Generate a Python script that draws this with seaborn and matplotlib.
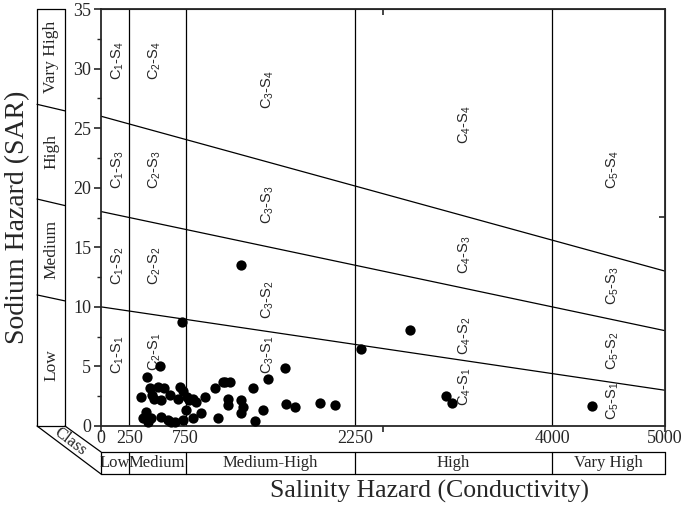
import numpy as np
import pandas as pd
import matplotlib
matplotlib.use('Agg')
import matplotlib.pyplot as plt
import seaborn as sns

# sample points: conductivity (x) and SAR (y)
ec = [714, 1239, 2307, 2741, 3062, 3112, 4357, 519, 410, 357,
      431, 504, 555, 608, 696, 726, 474, 534, 448, 758,
      784, 846, 920, 1009, 1082, 1141, 1127, 1127, 1245, 1260,
      1245, 1348, 1481, 1628, 1436, 1363, 1643, 1717, 1938, 2071,
      401, 445, 372, 534, 623, 726, 755, 817, 890, 1038,
      419, 684, 817, 660, 1097, 590]
sar = [8.7, 13.5, 6.45, 8.03, 2.5, 1.96, 1.68, 5.0, 4.14, 2.46,
       3.16, 3.3, 3.15, 2.6, 3.3, 2.9, 2.3, 2.18, 2.6, 2.46,
       2.18, 2.04, 2.46, 3.16, 3.7, 3.7, 2.3, 1.76, 2.18, 1.62,
       1.07, 3.17, 3.95, 4.9, 1.34, 0.42, 1.82, 1.62, 1.9, 1.76,
       1.2, 0.64, 0.64, 0.78, 0.36, 0.5, 1.34, 0.64, 1.07, 0.64,
       0.36, 2.3, 2.3, 0.3, 3.7, 0.5]

# class boundaries
ec_bounds = [250, 750, 2250, 4000]
sar_left = [10, 18, 26]
sar_right = [3, 8, 13]
ec_classes = ['Low', 'Medium', 'Medium-High', 'High', 'Vary High']
sar_classes = ['Low', 'Medium', 'High', 'Vary High']
x_ticklabels = [0, 250, 750, 2250, 4000, 5000]

# zone labels (C-S), positions in data units
zone_names = ['C$_1$-S$_4$', 'C$_2$-S$_4$', 'C$_3$-S$_4$', 'C$_4$-S$_4$', 'C$_5$-S$_4$',
              'C$_1$-S$_3$', 'C$_2$-S$_3$', 'C$_3$-S$_3$', 'C$_4$-S$_3$', 'C$_5$-S$_3$',
              'C$_1$-S$_2$', 'C$_2$-S$_2$', 'C$_3$-S$_2$', 'C$_4$-S$_2$', 'C$_5$-S$_2$',
              'C$_1$-S$_1$', 'C$_2$-S$_1$', 'C$_3$-S$_1$', 'C$_4$-S$_1$', 'C$_5$-S$_1$']
zone_x = [150, 480, 1478, 3221, 4540] * 4
zone_y = [30.7, 30.7, 28.2, 25.3, 21.5,
          21.5, 21.5, 18.6, 14.4, 11.8,
          13.5, 13.5, 10.6, 7.6, 6.3,
          6.0, 6.2, 6.0, 3.3, 2.1]

sns.set_style('ticks')
plt.rcParams['font.family'] = ['Liberation Serif', 'DejaVu Serif']
plt.rcParams['mathtext.fontset'] = 'custom'
plt.rcParams['mathtext.rm'] = 'Liberation Sans'
plt.rcParams['mathtext.it'] = 'Liberation Sans'

fig = plt.figure(figsize=(6.85, 5.07), dpi=100)
ax = fig.add_axes([101/685, 1 - 426/507, 564/685, 417/507])

df = pd.DataFrame({'ec': ec, 'sar': sar})
sns.scatterplot(data=df, x='ec', y='sar', color='black', s=55, edgecolor='black',
                linewidth=0, ax=ax, clip_on=False, zorder=5)

lw = 0.9
for b in ec_bounds:
    ax.axvline(b, color='black', lw=lw)
for l, r in zip(sar_left, sar_right):
    ax.plot([0, 5000], [l, r], color='black', lw=lw)

for name, x, y in zip(zone_names, zone_x, zone_y):
    ax.text(x, y, name, rotation=90, ha='center', va='center', fontsize=10.5,
            family='Liberation Sans')

ax.set_xlim(0, 5000)
ax.set_ylim(0, 35)
ax.xaxis.remove_overlapping_locs = False
ax.set_xticks([0, 2500, 5000])
ax.set_xticklabels([])
ax.set_xticks(x_ticklabels, minor=True)
ax.set_xticklabels([str(v) for v in x_ticklabels], minor=True, fontsize=13)
ax.tick_params(axis='x', which='major', length=4, width=1.2, direction='out')
ax.tick_params(axis='x', which='minor', length=0, pad=3)
ax.set_yticks(np.arange(0, 36, 5))
ax.set_yticks(np.arange(2.5, 35, 5), minor=True)
ax.tick_params(axis='y', which='major', length=5, width=1.2, labelsize=13, pad=2)
ax.tick_params(axis='y', which='minor', length=3, width=1.0)
for sp in ax.spines.values():
    sp.set_visible(True)
    sp.set_linewidth(1.3)

top = ax.secondary_xaxis('top')
top.set_xticks([2500])
top.set_xticklabels([])
top.minorticks_off()
top.tick_params(direction='in', length=4, width=1.2)
right = ax.secondary_yaxis('right')
right.set_yticks([17.5])
right.set_yticklabels([])
right.minorticks_off()
right.tick_params(direction='in', length=4, width=1.2)

ax.set_xlabel('Salinity Hazard (Conductivity)', fontsize=18.5)
ax.set_ylabel('Sodium Hazard (SAR)', fontsize=20)
ax.xaxis.set_label_coords(0.583, -0.158)
ax.yaxis.set_label_coords(-0.147, 0.5)
ax.xaxis.label.set_va('center')
ax.yaxis.label.set_va('center')

# left class panel (SAR)
px0, px1 = -567, -319
kw = dict(color='black', lw=lw, clip_on=False)
ax.plot([px0, px0], [0, 35], **kw)
ax.plot([px1, px1], [0, 35], **kw)
ax.plot([px0, px1], [35, 35], **kw)
ax.plot([px0, px1], [0, 0], **kw)
div_left = [11.0, 19.05, 27.0]
div_right = [10.5, 18.5, 26.45]
for a, b in zip(div_left, div_right):
    ax.plot([px0, px1], [a, b], **kw)
sar_label_y = [5.1, 14.8, 23.0, 31.0]
for name, y in zip(sar_classes, sar_label_y):
    ax.text((px0 + px1) / 2, y, name, rotation=90, ha='center', va='center',
            fontsize=12.5, clip_on=False)

# bottom class panel (EC)
by0, by1 = -2.18, -4.03
ax.plot([0, 5000], [by0, by0], **kw)
ax.plot([0, 5000], [by1, by1], **kw)
for b in [0] + ec_bounds + [5000]:
    ax.plot([b, b], [by0, by1], **kw)
ec_label_x = [120, 490, 1500, 3125, 4500]
for name, x in zip(ec_classes, ec_label_x):
    ax.text(x, (by0 + by1) / 2, name, ha='center', va='center', fontsize=12,
            clip_on=False)

# corner connectors
ax.plot([px0, 0], [0, by1], **kw)
ax.plot([px1, 0], [0, by0], **kw)
ax.text(-270, -1.3, 'Class', rotation=-37, ha='center', va='center',
        fontsize=12, clip_on=False)

fig.savefig('out.png', dpi=100)
